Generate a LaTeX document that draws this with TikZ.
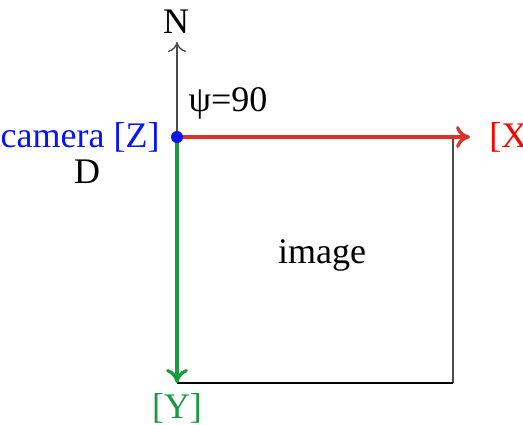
\documentclass[tikz,border=0pt]{standalone}
\usepackage{fontspec}
\setmainfont{Liberation Serif}
\usetikzlibrary{arrows.meta, positioning}
\definecolor{axisred}{HTML}{E0302A}
\definecolor{axisgreen}{HTML}{1A9A40}
\definecolor{camblue}{HTML}{0A14F0}

\begin{document}
\begin{tikzpicture}[
    x=0.5pt, y=-0.5pt,
    font=\fontsize{18}{20}\selectfont,
    lbl/.style={inner sep=0pt},
    axis/.style={line width=1.6pt, -{To[length=7pt, width=11pt, line width=1.6pt]}},
    frame/.style={line width=1pt}
  ]
    \useasboundingbox (0,0) rectangle (523,424);
    \coordinate (cam) at (177,137);
    \coordinate (n) at (177,42);
    \coordinate (x) at (470,137);
    \coordinate (y) at (177,383);
    \coordinate (tr) at (453,137);
    \coordinate (br) at (453,383);
    % image frame
    \draw[frame, black!70] (tr) -- (br);
    \draw[frame] (br) -- (y);
    % axes
    \draw[line width=0.7pt, black!70, -{To[length=5pt, width=9pt]}] (cam) -- (n);
    \draw[axis, axisred] (cam) -- (x);
    \draw[axis, axisgreen] (cam) -- (y);
    \fill[camblue] (cam) circle (6);
    % labels
    \node[lbl] (nlab) at (176,22) {N};
    \node[lbl, anchor=west] (xlab) at (489,137) {\textcolor{red}{[X}};
    \node[lbl] (ylab) at (177,408) {\textcolor{axisgreen}{[Y]}};
    \node[lbl, anchor=east] (camlab) at (160,137) {\textcolor{camblue}{camera [Z]}};
    \node[lbl] (dlab) at (87,172) {D};
    \node[lbl] (psi) at (228,103) {ψ=90};
    \node[lbl] (img) at (322,255) {image};
  \end{tikzpicture}
\end{document}
